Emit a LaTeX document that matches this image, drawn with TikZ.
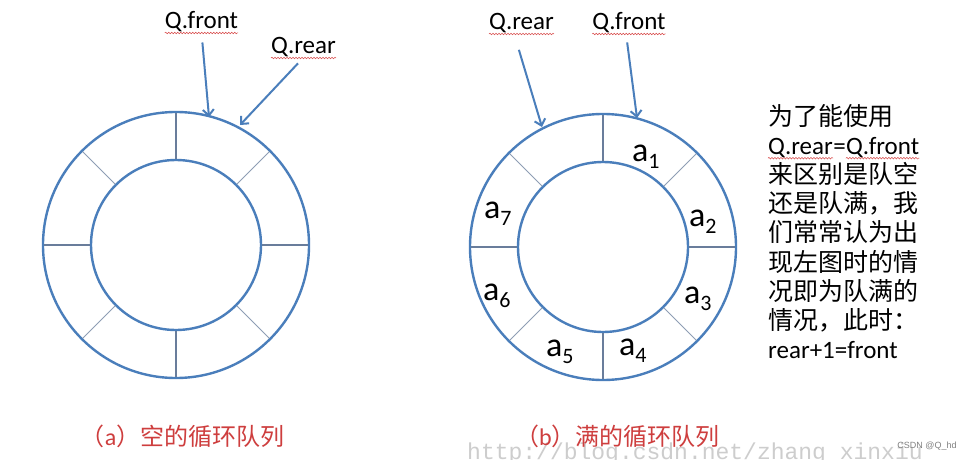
\documentclass[tikz,border=0pt]{standalone}
\usepackage{fontspec}
\setmainfont{Carlito}
\newfontfamily\cjk{Noto Sans CJK SC}
\newfontfamily\wmono{Liberation Mono}
\newfontfamily\wsans{Liberation Sans}
\usetikzlibrary{arrows.meta,decorations.pathmorphing}
\definecolor{ringblue}{RGB}{74,126,187}
\definecolor{divgray}{RGB}{105,125,155}
\definecolor{capred}{RGB}{206,62,62}
\definecolor{wmgray}{RGB}{205,205,205}
\definecolor{squigred}{RGB}{215,70,70}
\tikzset{
  ring/.style={draw=ringblue, line width=2.4pt},
  divider/.style={draw=divgray, line width=1.3pt},
  diag/.style={draw=divgray!75, line width=1pt},
  ptr/.style={draw=ringblue, line width=2pt, -{Straight Barb[length=6pt,width=11pt]}},
  lbl/.style={font=\fontsize{25}{30}\selectfont, inner sep=0pt, anchor=base},
  txt/.style={font=\fontsize{25}{30}\selectfont, inner sep=0pt, anchor=base west},
  elem/.style={font=\fontsize{34}{40}\selectfont, inner sep=0pt, anchor=base west},
  captext/.style={font=\cjk\fontsize{24}{28}\selectfont, text=capred, inner sep=0pt, anchor=base},
  squig/.style={draw=squigred, line width=0.5pt, decorate,
    decoration={snake, segment length=3pt, amplitude=0.8pt}}
}
\newcommand\elab[1]{a\raisebox{-7pt}{\fontsize{22}{22}\selectfont #1}}
\begin{document}
\begin{tikzpicture}[x=1pt,y=-1pt]
\clip (0,0) rectangle (966,460);
\fill[white] (0,0) rectangle (966,460);

% watermark
\node[font=\wmono\fontsize{23}{26}\selectfont, text=wmgray, inner sep=0pt, anchor=base west] (wm) at (467,459) {http://blog.csdn.net/zhang\_xinxiu};
\node[font=\wsans\fontsize{9}{10}\selectfont, text=gray, inner sep=0pt] (csdn) at (927,446.5) {CSDN @Q\_hd};

% ring (a)
\coordinate (ca) at (176,245);
\draw[ring] (ca) circle[radius=133];
\draw[ring] (ca) circle[radius=85];
\foreach \a in {0,90,180,270}
  \draw[divider] ([shift={(\a:86)}]ca) -- ([shift={(\a:132)}]ca);
\foreach \a in {45,135,225,315}
  \draw[diag] ([shift={(\a:86)}]ca) -- ([shift={(\a:132)}]ca);

% ring (b)
\coordinate (cb) at (603,247);
\draw[ring] (cb) circle[radius=133];
\draw[ring] (cb) circle[radius=85];
\foreach \a in {0,90,180,270}
  \draw[divider] ([shift={(\a:86)}]cb) -- ([shift={(\a:132)}]cb);
\foreach \a in {45,135,225,315}
  \draw[diag] ([shift={(\a:86)}]cb) -- ([shift={(\a:132)}]cb);

% elements
\node[elem] (a1) at (632,161) {\elab{1}};
\node[elem] (a2) at (689,226) {\elab{2}};
\node[elem] (a3) at (684,303) {\elab{3}};
\node[elem] (a4) at (619,355) {\elab{4}};
\node[elem] (a5) at (546,356) {\elab{5}};
\node[elem] (a6) at (483,300) {\elab{6}};
\node[elem] (a7) at (484,218) {\elab{7}};

% pointer labels
\node[lbl] (qfa) at (201.5,29) {Q.front};
\node[lbl] (qra) at (303.5,54) {Q.rear};
\node[lbl] (qrb) at (521.5,30) {Q.rear};
\node[lbl] (qfb) at (629,30) {Q.front};
\foreach \n in {qfa,qra,qrb,qfb}
  \draw[squig] ([yshift=-4pt]\n.base west) -- ([yshift=-4pt]\n.base east);

\coordinate (tfa) at (209,117);
\coordinate (tra) at (240,125);
\coordinate (trb) at (542,127);
\coordinate (tfb) at (637,118);
\draw[ptr, shorten <=10pt] (qfa.south) -- (tfa);
\draw[ptr, shorten <=8pt] (qra.south) -- (tra);
\draw[ptr, shorten <=17pt] ([xshift=-7.5pt]qrb.south) -- (trb);
\draw[ptr, shorten <=9pt] ([xshift=-3pt]qfb.south) -- (tfb);

% explanation text
\node[txt] (t1) at (768,125) {\cjk 为了能使用};
\node[txt] (t2a) at (768,154.2) {Q.rear};
\node[txt] (t2b) at (t2a.base east) {=};
\node[txt] (t2c) at (t2b.base east) {Q.front};
\draw[squig] ([yshift=-4pt]t2a.base west) -- ([yshift=-4pt]t2a.base east);
\draw[squig] ([yshift=-4pt]t2c.base west) -- ([yshift=-4pt]t2c.base east);
\node[txt] (t3) at (768,183.4) {\cjk 来区别是队空};
\node[txt] (t4) at (768,212.6) {\cjk 还是队满，我};
\node[txt] (t5) at (768,241.8) {\cjk 们常常认为出};
\node[txt] (t6) at (768,271) {\cjk 现左图时的情};
\node[txt] (t7) at (768,300.2) {\cjk 况即为队满的};
\node[txt] (t8) at (768,329.4) {\cjk 情况，此时：};
\node[txt] (t9) at (768,358.6) {rear+1=front};

% captions
\node[captext] (capa) at (182.5,445) {（{\rmfamily a}）空的循环队列};
\node[captext] (capb) at (617.5,445) {（{\rmfamily b}）满的循环队列};
\end{tikzpicture}
\end{document}
